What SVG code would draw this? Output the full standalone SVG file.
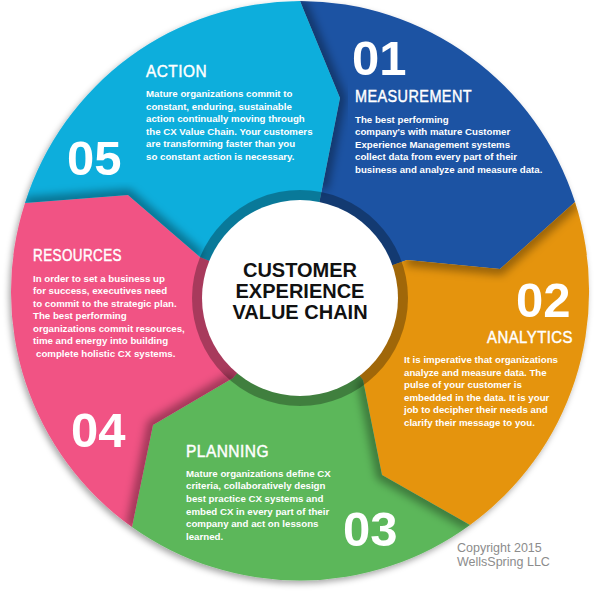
<svg xmlns="http://www.w3.org/2000/svg" width="600" height="600" viewBox="0 0 600 600">
<defs>
<style>
.body{font-family:"Liberation Sans",Arial,sans-serif;font-weight:bold;font-size:9.7px;fill:#fff}
.head{font-family:"Liberation Sans",Arial,sans-serif;font-size:16.5px;fill:#fff;stroke:#fff;stroke-width:0.45px;letter-spacing:0.5px}
.num{font-family:"Liberation Sans",Arial,sans-serif;font-weight:bold;font-size:49px;fill:#fff}
.center{font-family:"Liberation Sans",Arial,sans-serif;font-weight:bold;font-size:20px;fill:#111;text-anchor:middle}
.copy{font-family:"Liberation Sans",Arial,sans-serif;font-size:12.5px;fill:#8c8c8c}
.shadow{fill:none;stroke:#000;stroke-width:12;stroke-opacity:0.35;stroke-linejoin:round;filter:url(#blur)}
</style>
<filter id="blur" x="-20%" y="-20%" width="140%" height="140%"><feGaussianBlur stdDeviation="4"/></filter>
<filter id="outer" x="-10%" y="-10%" width="120%" height="120%"><feDropShadow dx="-2" dy="3" stdDeviation="3" flood-color="#000" flood-opacity="0.35"/></filter>
<path id="p1" d="M300,298 L322,189 L340,98 L300,1 A289,289 0 0 1 575,202 L500,269 L407,260 Z"/>
<path id="p2" d="M300,298 L407,260 L500,269 L575,202 A289,289 0 0 1 470,525 L382,475 L363,380 Z"/>
<path id="p3" d="M300,298 L363,380 L382,475 L470,525 A289,289 0 0 1 132,527 L153,425 L233,378 Z"/>
<path id="p4" d="M300,298 L233,378 L153,425 L132,527 A289,289 0 0 1 25,203 L128,195 L200,257 Z"/>
<path id="p5" d="M300,298 L200,257 L128,195 L25,203 A289,289 0 0 1 300,1 L340,98 L322,189 Z"/>
<clipPath id="c1"><use href="#p1"/></clipPath>
<clipPath id="c2"><use href="#p2"/></clipPath>
<clipPath id="c3"><use href="#p3"/></clipPath>
<clipPath id="c4"><use href="#p4"/></clipPath>
<clipPath id="c5"><use href="#p5"/></clipPath>
</defs>
<rect width="600" height="600" fill="#fff"/>
<g id="wheel" filter="url(#outer)">
<use href="#p1" fill="#1D52A3"/>
<use href="#p2" fill="#E5940B"/>
<use href="#p3" fill="#5BB75A"/>
<use href="#p4" fill="#F15384"/>
<use href="#p5" fill="#0AAEDC"/>
</g>
<g id="tip-shadows">
<g clip-path="url(#c2)"><polyline class="shadow" points="575,202 500,269 407,260"/></g>
<g clip-path="url(#c3)"><polyline class="shadow" points="470,525 382,475 363,380"/></g>
<g clip-path="url(#c4)"><polyline class="shadow" points="132,527 153,425 233,378"/></g>
<g clip-path="url(#c5)"><polyline class="shadow" points="25,203 128,195 200,257"/></g>
<g clip-path="url(#c1)"><polyline class="shadow" points="300,1 340,98 322,189"/></g>
</g>
<g id="hub">
<circle cx="300" cy="298" r="108" fill="#000" fill-opacity="0.3"/>
<circle cx="300" cy="298" r="98" fill="#fff"/>
<text class="center" x="300" y="277">CUSTOMER</text>
<text class="center" x="300" y="298">EXPERIENCE</text>
<text class="center" x="300" y="319">VALUE CHAIN</text>
</g>
<g id="node-01">
<text class="num" x="352" y="75">01</text>
<text class="head" x="355" y="102" textLength="117" lengthAdjust="spacingAndGlyphs">MEASUREMENT</text>
<text class="body" x="355" y="122.7">The best performing</text>
<text class="body" x="355" y="135.2">company's with mature Customer</text>
<text class="body" x="355" y="147.7">Experience Management systems</text>
<text class="body" x="355" y="160.2">collect data from every part of their</text>
<text class="body" x="355" y="172.7">business and analyze and measure data.</text>
</g>
<g id="node-02">
<text class="num" x="516" y="317">02</text>
<text class="head" x="487" y="343" textLength="86" lengthAdjust="spacingAndGlyphs">ANALYTICS</text>
<text class="body" x="404" y="363">It is imperative that organizations</text>
<text class="body" x="404" y="375.5">analyze and measure data. The</text>
<text class="body" x="404" y="388">pulse of your customer is</text>
<text class="body" x="404" y="400.5">embedded in the data. It is your</text>
<text class="body" x="404" y="413">job to decipher their needs and</text>
<text class="body" x="404" y="425.5">clarify their message to you.</text>
</g>
<g id="node-03">
<text class="head" x="186" y="457" textLength="83" lengthAdjust="spacingAndGlyphs">PLANNING</text>
<text class="body" x="186" y="476.7">Mature organizations define CX</text>
<text class="body" x="186" y="489.3">criteria, collaboratively design</text>
<text class="body" x="186" y="501.9">best practice CX systems and</text>
<text class="body" x="186" y="514.5">embed CX in every part of their</text>
<text class="body" x="186" y="527.1">company and act on lessons</text>
<text class="body" x="186" y="539.7">learned.</text>
<text class="num" x="343" y="546">03</text>
</g>
<g id="node-04">
<text class="head" x="33" y="261" textLength="89" lengthAdjust="spacingAndGlyphs">RESOURCES</text>
<text class="body" x="33" y="281.7">In order to set a business up</text>
<text class="body" x="33" y="294.2">for success, executives need</text>
<text class="body" x="33" y="306.7">to commit to the strategic plan.</text>
<text class="body" x="33" y="319.2">The best performing</text>
<text class="body" x="33" y="331.7">organizations commit resources,</text>
<text class="body" x="33" y="344.2">time and energy into building</text>
<text class="body" x="36" y="356.7">complete holistic CX systems.</text>
<text class="num" x="71" y="447">04</text>
</g>
<g id="node-05">
<text class="head" x="146" y="77" textLength="61" lengthAdjust="spacingAndGlyphs">ACTION</text>
<text class="body" x="146" y="97.3">Mature organizations commit to</text>
<text class="body" x="146" y="109.8">constant, enduring, sustainable</text>
<text class="body" x="146" y="122.3">action continually moving through</text>
<text class="body" x="146" y="134.8">the CX Value Chain. Your customers</text>
<text class="body" x="146" y="147.3">are transforming faster than you</text>
<text class="body" x="146" y="159.8">so constant action is necessary.</text>
<text class="num" x="67" y="175">05</text>
</g>
<g id="copyright">
<text class="copy" x="457" y="552">Copyright 2015</text>
<text class="copy" x="457" y="566">WellsSpring LLC</text>
</g>
</svg>
